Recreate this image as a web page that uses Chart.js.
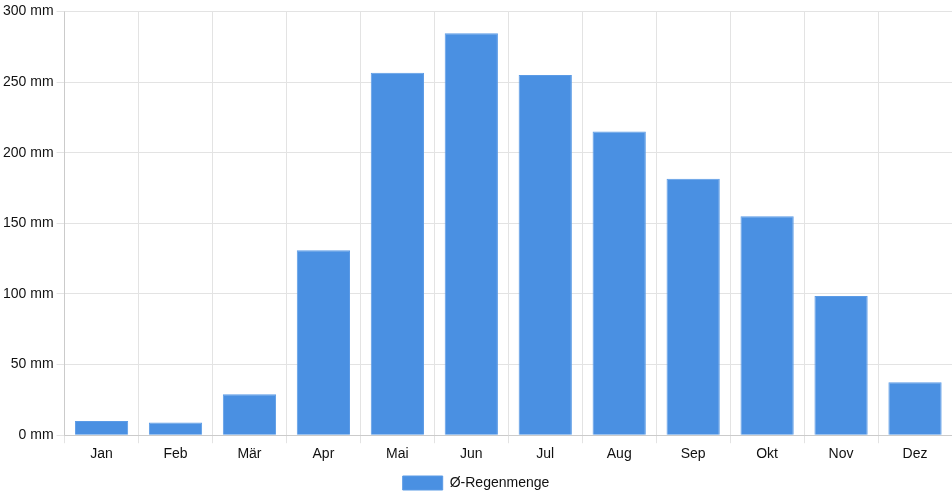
<!DOCTYPE html>
<html>
<head>
<meta charset="utf-8">
<script src="https://cdn.jsdelivr.net/npm/chart.js@4"></script>
<style>
  html, body { margin: 0; padding: 0; background: #fff; }
  #wrap { width: 952px; height: 500px; }
</style>
</head>
<body>
<div id="wrap"><canvas id="grafico"></canvas></div>
<script>
const monate = ['Jan', 'Feb', 'Mär', 'Apr', 'Mai', 'Jun', 'Jul', 'Aug', 'Sep', 'Okt', 'Nov', 'Dez'];
const regenmenge = [10, 9, 29, 131, 256.5, 284.5, 255, 215, 181.5, 155, 98.5, 37.5];
const serieName = 'Ø-Regenmenge';

Chart.defaults.font.family = '"Liberation Sans", Arial, sans-serif';
Chart.defaults.font.size = 14;
Chart.defaults.color = '#111';

new Chart(document.getElementById('grafico').getContext('2d'), {
    type: 'bar',
    data: {
        labels: monate,
        datasets: [{
            label: serieName,
            data: regenmenge,
            backgroundColor: '#4a90e2',
            borderColor: '#5b9be6',
            borderWidth: 1,
        }],
    },
    options: {
        responsive: true,
        maintainAspectRatio: false,
        animation: false,
        plugins: {
            legend: {
                position: 'bottom',
                labels: { boxWidth: 40, boxHeight: 14 },
            },
            tooltip: { enabled: false },
        },
        scales: {
            x: {
                grid: { color: '#e3e3e3' },
            },
            y: {
                min: 0,
                max: 300,
                ticks: {
                    stepSize: 50,
                    callback: v => v + ' mm',
                },
                grid: { color: '#e3e3e3' },
            },
        },
    },
});
</script>
</body>
</html>
